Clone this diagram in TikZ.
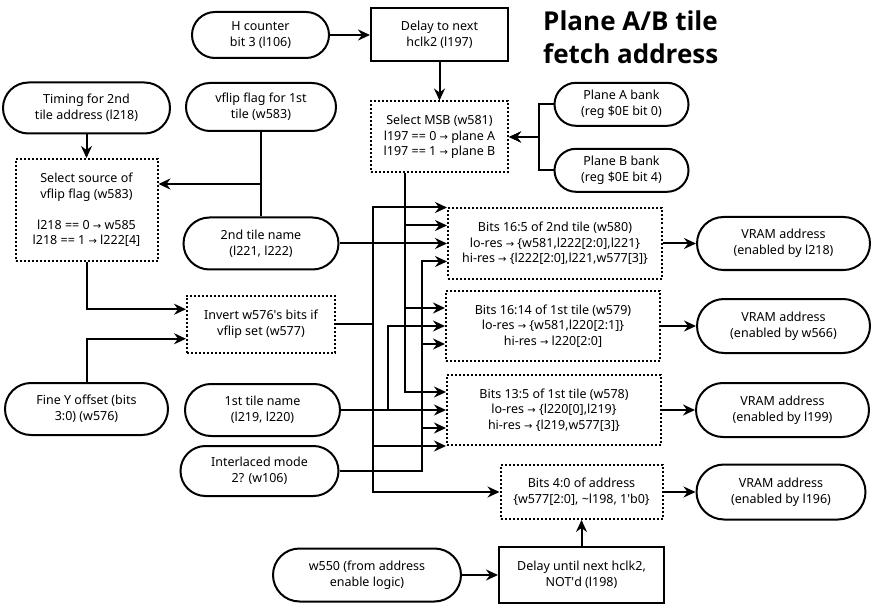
\documentclass[tikz,border=0pt]{standalone}
\usepackage{fontspec}
\setmainfont{Noto Sans}
\newfontfamily\arrowfont{DejaVu Sans}
\newfontfamily\titlefont{Open Sans}
\usetikzlibrary{shapes.misc,arrows.meta,calc}
\newcommand{\rarr}{{\arrowfont\fontsize{10}{10}\selectfont →}}
\begin{document}
\begin{tikzpicture}[x=1pt,y=-1pt,
  every node/.style={font=\fontsize{12.5}{15.6}\selectfont, align=center, text=black, inner sep=0pt},
  pill/.style={draw, line width=2pt, rounded rectangle},
  solidbox/.style={draw, line width=2pt, rectangle},
  dotbox/.style={draw, line width=2pt, rectangle, dash pattern=on 2pt off 2pt},
  arr/.style={line width=2pt, -{Stealth[length=12pt,width=11pt,inset=4pt]}},
  wire/.style={line width=2pt}]
\useasboundingbox (0,0) rectangle (873,604);

% title
\node[anchor=west, align=left, font=\titlefont\bfseries\fontsize{26}{32.6}\selectfont] (title) at (543,37) {Plane A/B tile\\fetch address};

% top row
\node[pill, minimum width=137pt, minimum height=46pt] (hc) at (260.5,35) {H counter\\bit 3 (l106)};
\node[solidbox, minimum width=137pt, minimum height=53pt] (d1) at (439.5,35) {Delay to next\\hclk2 (l197)};
\node[dotbox, minimum width=137pt, minimum height=71pt] (msb) at (439.5,137) {Select MSB (w581)\\l197 == 0 \rarr{} plane A\\l197 == 1 \rarr{} plane B};
\node[pill, minimum width=134pt, minimum height=43pt] (pa) at (621.5,104.3) {Plane A bank\\(reg \$0E bit 0)};
\node[pill, minimum width=134pt, minimum height=43pt] (pb) at (621.5,170.3) {Plane B bank\\(reg \$0E bit 4)};

% left column
\node[pill, minimum width=167pt, minimum height=51pt] (tim) at (86.5,108) {Timing for 2nd\\tile address (l218)};
\node[pill, minimum width=150pt, minimum height=48pt] (vf) at (261,107) {vflip flag for 1st\\tile (w583)};
\node[dotbox, minimum width=142pt, minimum height=102pt] (ss) at (86.5,210) {Select source of\\vflip flag (w583)\\[15.6pt]l218 == 0 \rarr{} w585\\l218 == 1 \rarr{} l222[4]};
\node[pill, minimum width=155pt, minimum height=52pt] (t2) at (261,243.5) {2nd tile name\\(l221, l222)};
\node[dotbox, minimum width=148pt, minimum height=57pt] (inv) at (261,324) {Invert w576\textquotesingle s bits if\\vflip set (w577)};
\node[pill, minimum width=163pt, minimum height=52pt] (fy) at (86.5,409) {Fine Y offset (bits\\3:0) (w576)};
\node[pill, minimum width=155pt, minimum height=52pt] (t1) at (262.5,410) {1st tile name\\(l219, l220)};
\node[pill, minimum width=158pt, minimum height=50pt] (il) at (259.5,471) {Interlaced mode\\2? (w106)};
\node[pill, minimum width=188pt, minimum height=53pt] (w550) at (367,575) {w550 (from address\\enable logic)};

% bits boxes
\node[dotbox, minimum width=214pt, minimum height=70pt] (b165) at (555,243.5) {Bits 16:5 of 2nd tile (w580)\\lo-res \rarr{} \{w581,l222[2:0],l221\}\\hi-res \rarr{} \{l222[2:0],l221,w577[3]\}};
\node[dotbox, minimum width=214pt, minimum height=70pt] (b1614) at (553,326) {Bits 16:14 of 1st tile (w579)\\lo-res \rarr{} \{w581,l220[2:1]\}\\hi-res \rarr{} l220[2:0]};
\node[dotbox, minimum width=214pt, minimum height=70pt] (b135) at (554,410) {Bits 13:5 of 1st tile (w578)\\lo-res \rarr{} \{l220[0],l219\}\\hi-res \rarr{} \{l219,w577[3]\}};
\node[dotbox, minimum width=162pt, minimum height=54pt] (b40) at (581.5,492) {Bits 4:0 of address\\\{w577[2:0], \textasciitilde l198, 1\textquotesingle b0\}};
\node[solidbox, minimum width=165pt, minimum height=56pt] (d2) at (581.5,575) {Delay until next hclk2,\\NOT\textquotesingle d (l198)};

% VRAM outputs
\node[pill, minimum width=173pt, minimum height=53pt] (v1) at (783.5,243.5) {VRAM address\\(enabled by l218)};
\node[pill, minimum width=173pt, minimum height=54pt] (v2) at (783.5,326) {VRAM address\\(enabled by w566)};
\node[pill, minimum width=173pt, minimum height=54pt] (v3) at (782.5,410) {VRAM address\\(enabled by l199)};
\node[pill, minimum width=169pt, minimum height=55pt] (v4) at (781,492) {VRAM address\\(enabled by l196)};

% bus x positions
\coordinate (busW) at (373,0);
\coordinate (busT) at (388,0);
\coordinate (busM) at (405,0);
\coordinate (busI) at (422,0);
\coordinate (busP) at (539,0);
\coordinate (j1) at (261,184);

% connection points on the left sides
\coordinate (a1) at (b165.north west);
\coordinate (a2) at ($(b165.north west)!.25!(b165.south west)$);
\coordinate (a4) at ($(b165.north west)!.75!(b165.south west)$);
\coordinate (c1) at ($(b1614.north west)!.25!(b1614.south west)$);
\coordinate (c3) at ($(b1614.north west)!.75!(b1614.south west)$);
\coordinate (e1) at ($(b135.north west)!.25!(b135.south west)$);
\coordinate (e3) at ($(b135.north west)!.75!(b135.south west)$);
\coordinate (e4) at (b135.south west);
\coordinate (i1) at ($(inv.north west)!.25!(inv.south west)$);
\coordinate (i2) at ($(inv.north west)!.75!(inv.south west)$);

% top connectors
\draw[arr] (hc.east) -- (hc.east -| d1.west);
\draw[arr] (d1.south) -- (msb.north);
\draw[arr] (pa.west) -| (busP |- msb.east) -- (msb.east);
\draw[arr] (pb.west) -| (busP |- msb.east) -- (msb.east);

% left connectors
\draw[arr] (tim.south) -- (tim.south |- ss.north);
\draw[arr] (vf.south) -- (j1) -- (j1 -| ss.east);
\draw[wire] (t2.north) -- (j1);
\draw[arr] (ss.south) |- (i1);
\draw[arr] (fy.north) |- (i2);

% w577 bus
\draw[arr] (inv.east) -| (busW |- a1) -- (a1);
\draw[arr] (inv.east) -| (busW |- e4) -- (e4);
\draw[arr] (inv.east) -| (busW |- b40.west) -- (b40.west);

% MSB bus
\draw[arr] (msb.south -| busM) |- (a2);
\draw[arr] (msb.south -| busM) |- (c1);
\draw[arr] (msb.south -| busM) |- (e1);

% tile names
\draw[arr] (t2.east |- b165.west) -- (b165.west);
\draw[arr] (t1.east |- b135.west) -- (b135.west);
\draw[arr] (t1.east |- b135.west) -| (busT |- b1614.west) -- (b1614.west);

% interlace bus
\draw[arr] (il.east) -| (busI |- a4) -- (a4);
\draw[arr] (il.east) -| (busI |- c3) -- (c3);
\draw[arr] (il.east) -| (busI |- e3) -- (e3);

% bottom
\draw[arr] (w550.east) -- (w550.east -| d2.west);
\draw[arr] (d2.north) -- (b40.south);

% outputs
\draw[arr] (b165.east) -- (b165.east -| v1.west);
\draw[arr] (b1614.east) -- (b1614.east -| v2.west);
\draw[arr] (b135.east) -- (b135.east -| v3.west);
\draw[arr] (b40.east) -- (b40.east -| v4.west);
\end{tikzpicture}
\end{document}
